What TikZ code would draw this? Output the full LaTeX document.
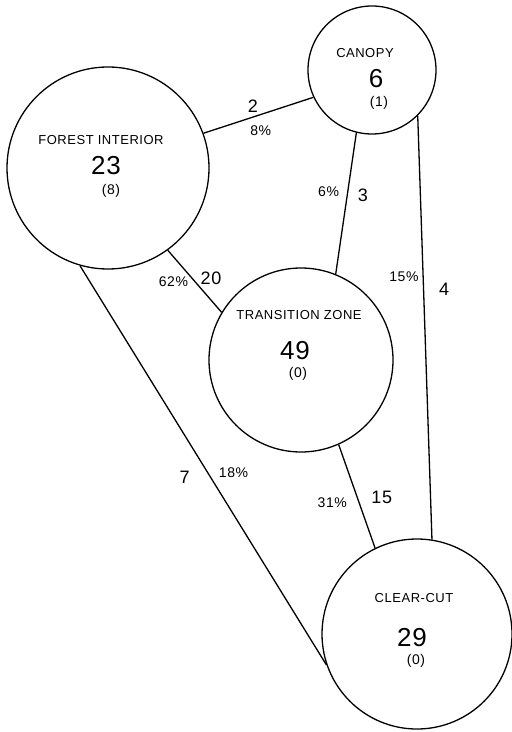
\documentclass[tikz,border=0pt]{standalone}
\usepackage{fontspec}
\setmainfont{Liberation Sans}[LetterSpace=4]
\usepackage{tikz}

\begin{document}
\begin{tikzpicture}[x=0.5pt,y=-0.5pt,line width=0.65pt,
    zone/.style={circle,draw,minimum size=#1,inner sep=0pt},
    zname/.style={font=\fontsize{6.5}{7}\selectfont},
    zcount/.style={font=\fontsize{13}{14}\selectfont},
    zsub/.style={font=\fontsize{7}{8}\selectfont},
    num/.style={font=\fontsize{9}{10}\selectfont,inner sep=2pt},
    pct/.style={font=\fontsize{7}{8}\selectfont,inner sep=2pt}]
  \useasboundingbox (0,0) rectangle (511,732);
  % habitat zones
  \node [zone=64pt]  (canopy) at (372,70) {};
  \node [zone=101pt] (forest) at (108,168) {};
  \node [zone=92pt]  (trans)  at (301,360) {};
  \node [zone=95pt]  (clear)  at (417,634) {};
  \node [zname]  (canopy-name) at (365,53)  {CANOPY};
  \node [zcount] (canopy-n)    at (376,79)  {6};
  \node [zsub]   (canopy-k)    at (379,103) {(1)};
  \node [zname]  (forest-name) at (101,140) {FOREST INTERIOR};
  \node [zcount] (forest-n)    at (106,166) {23};
  \node [zsub]   (forest-k)    at (111,191) {(8)};
  \node [zname]  (trans-name)  at (299,315) {TRANSITION ZONE};
  \node [zcount] (trans-n)     at (295,351) {49};
  \node [zsub]   (trans-k)     at (298,374) {(0)};
  \node [zname]  (clear-name)  at (414,598) {CLEAR-CUT};
  \node [zcount] (clear-n)     at (412,638) {29};
  \node [zsub]   (clear-k)     at (416,661) {(0)};
  % shared species
  \draw (forest.20) -- node [num,above,pos=.45] (fc-n) {2}
    node [pct,below,pos=.52,yshift=-3.5pt] (fc-p) {8\%} (canopy.205);
  \draw (canopy.256) -- node [pct,left,pos=.42,xshift=-2pt] (ct-p) {6\%}
    node [num,right,pos=.44,xshift=3pt] (ct-n) {3} (trans.68);
  \draw (canopy.315) -- node [pct,left,pos=.38] (cc-p) {15\%}
    node [num,right,pos=.41,xshift=5.5pt] (cc-n) {4} (clear.81);
  \draw (forest.306) -- node [pct,left,pos=.5,xshift=-1pt] (ft-p) {62\%}
    node [num,right,pos=.45,xshift=2pt] (ft-n) {20} (trans.149);
  \draw (forest.254) -- node [num,left,pos=.52,xshift=-7pt,yshift=-2pt] (fx-n) {7}
    node [pct,right,pos=.5,xshift=5.5pt,yshift=-3.5pt] (fx-p) {18\%} (clear.199);
  \draw (trans.294) -- node [pct,left,pos=.6,xshift=-4.5pt,yshift=2pt] (tx-p) {31\%}
    node [num,right,pos=.55,xshift=4pt,yshift=2pt] (tx-n) {15} (clear.116);
\end{tikzpicture}
\end{document}
